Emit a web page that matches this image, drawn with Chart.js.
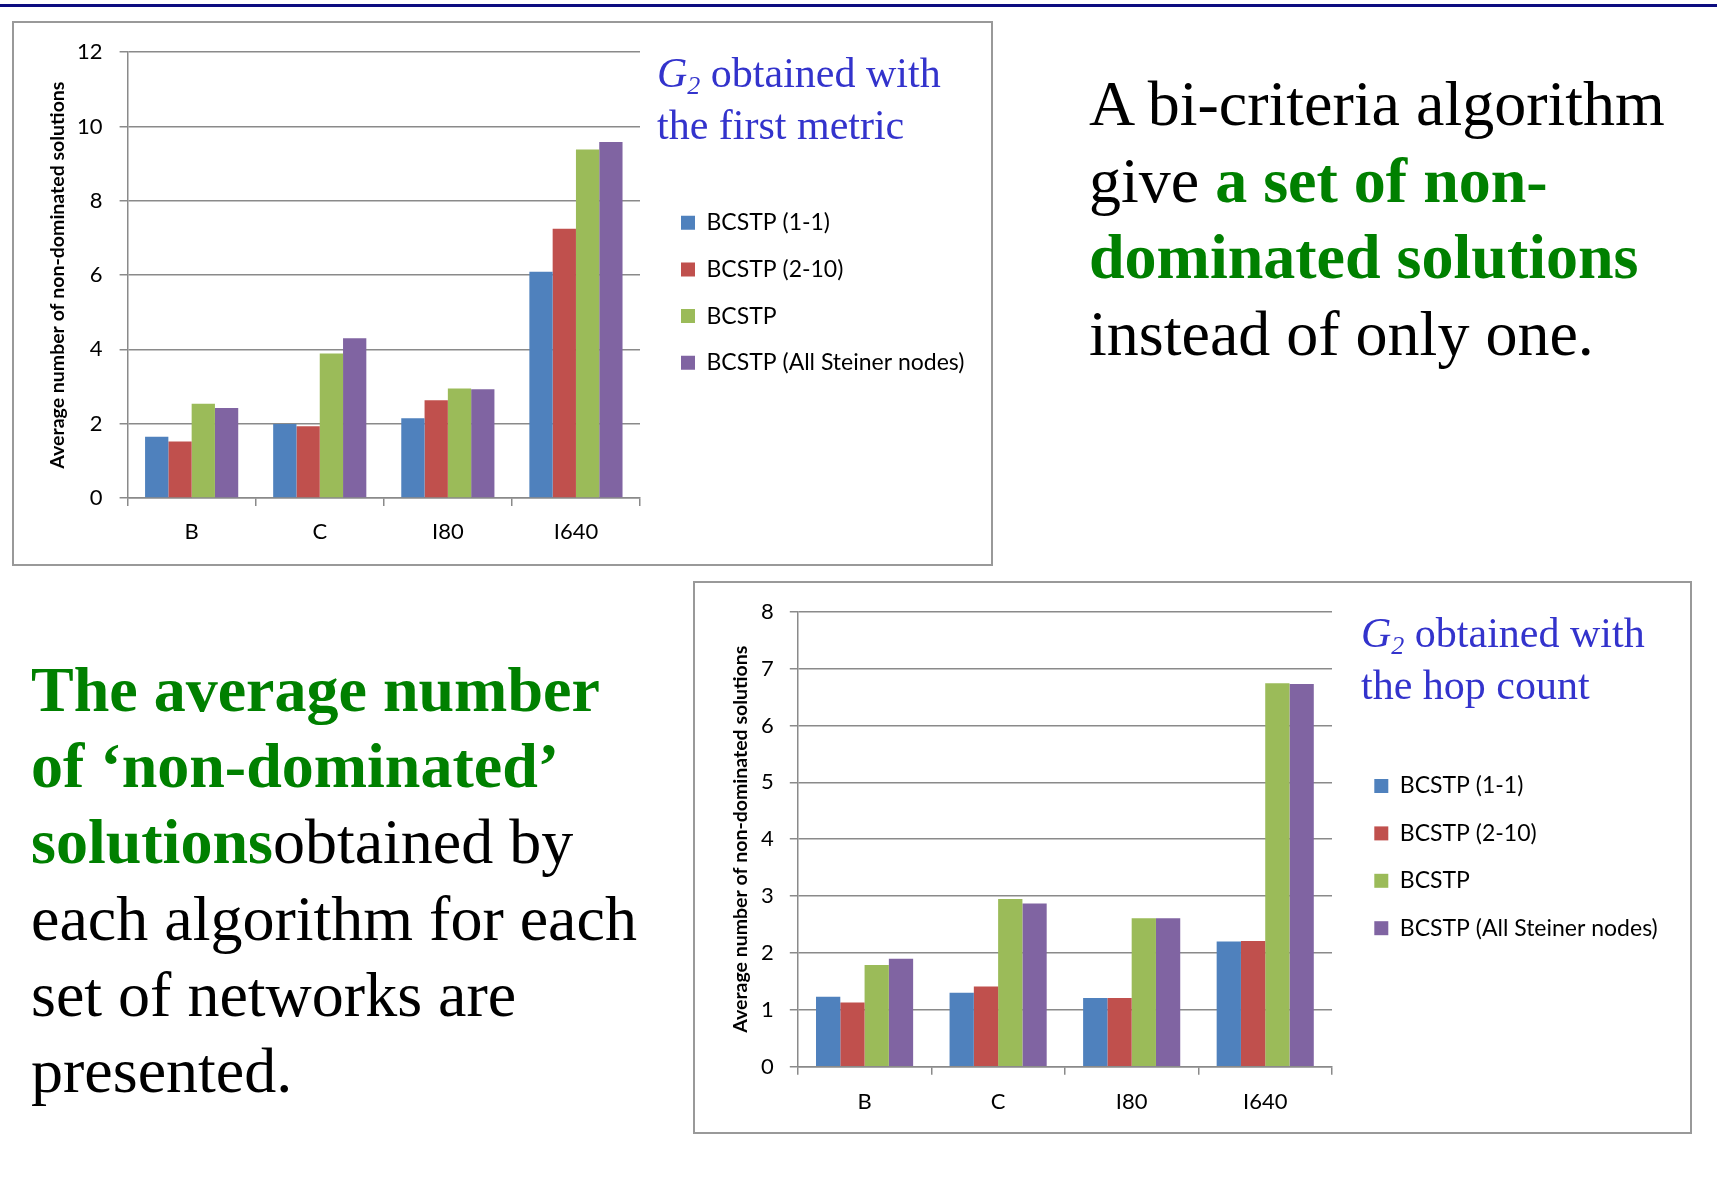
<!DOCTYPE html>
<html>
<head>
<meta charset="utf-8">
<script src="https://cdn.jsdelivr.net/npm/chart.js@4/dist/chart.umd.min.js"></script>
<style>
  html, body { margin: 0; padding: 0; background: #fff; }
  body { width: 1717px; height: 1186px; position: relative; overflow: hidden;
         font-family: 'Liberation Serif', 'Times New Roman', serif; }
  .topline { position: absolute; left: 0; top: 4px; width: 1717px; height: 3px; background: #0c0c80; }
  .frame { position: absolute; border: 2px solid #999; box-sizing: border-box; background: #fff; }
  canvas.plot { position: absolute; }
  .note { position: absolute; color: #3333cc; font-size: 42px; line-height: 51.5px; white-space: nowrap; }
  .note sub { font-size: 0.62em; vertical-align: -0.28em; line-height: 0; }
  .para { position: absolute; font-size: 64px; white-space: nowrap; color: #000; }
  .g { color: #008000; font-weight: bold; }
</style>
</head>
<body>
<div class="topline"></div>

<div class="frame" style="left:12px;top:21px;width:981px;height:545px;"></div>
<div class="frame" style="left:693px;top:581px;width:999px;height:553px;"></div>

<canvas id="metricChart" class="plot" width="979" height="543" style="left:13px;top:22px;"></canvas>
<canvas id="hopChart" class="plot" width="997" height="553" style="left:694px;top:581px;"></canvas>

<div class="note" style="left:657px;top:48px;"><i>G<sub>2</sub></i> obtained with<br>the first metric</div>
<div class="note" style="left:1361px;top:608px;"><i>G<sub>2</sub></i> obtained with<br>the hop count</div>

<div class="para" style="left:1089px;top:66px;line-height:76.7px;">
A bi-criteria algorithm<br>
give <span class="g">a set of non-</span><br>
<span class="g">dominated solutions</span><br>
instead of only one.
</div>

<div class="para" style="left:31px;top:652px;line-height:76.2px;">
<span class="g">The average number</span><br>
<span class="g">of ‘non-dominated’</span><br>
<span class="g">solutions</span>obtained by<br>
each algorithm for each<br>
set of networks are<br>
presented.
</div>

<script>
// Network sets on the x axis
const networks = ['B', 'C', 'I80', 'I640'];

// Algorithm variants (one bar series each)
const algorithms = ['BCSTP (1-1)', 'BCSTP (2-10)', 'BCSTP', 'BCSTP (All Steiner nodes)'];
const seriesColors = ['#4F81BD', '#C0504D', '#9BBB59', '#8064A2'];

// Average number of non-dominated solutions, G2 from the first metric
const metricBasic   = [1.65, 1.99, 2.15, 6.09];
const metricTwoTen  = [1.52, 1.93, 2.63, 7.25];
const metricBCSTP   = [2.54, 3.89, 2.95, 9.38];
const metricSteiner = [2.42, 4.30, 2.93, 9.58];

// Average number of non-dominated solutions, G2 from the hop count
const hopBasic   = [1.23, 1.30, 1.21, 2.20];
const hopTwoTen  = [1.13, 1.41, 1.21, 2.21];
const hopBCSTP   = [1.79, 2.95, 2.61, 6.74];
const hopSteiner = [1.90, 2.87, 2.61, 6.73];

// Y-axis tick settings
const metricTicks = { max: 12, step: 2 };
const hopTicks = { max: 8, step: 1 };

const axisTitle = 'Average number of non-dominated solutions';
const gridGrey = '#8a8a8a';
const tickFont = { family: 'Lato', size: 22 };

// Puts the legend block at a fixed spot inside the canvas
const legendPlacer = {
  id: 'legendPlacer',
  afterLayout(chart, args, opts) {
    const lg = chart.legend;
    if (!lg) return;
    lg.left = opts.x; lg.top = opts.y;
    lg.width = opts.w; lg.height = opts.h;
    lg.right = opts.x + opts.w; lg.bottom = opts.y + opts.h;
  }
};

function buildDatasets(values) {
  return algorithms.map((name, i) => ({
    label: name,
    data: values[i],
    backgroundColor: seriesColors[i],
    borderWidth: 0,
    categoryPercentage: 4 / 5.5,
    barPercentage: 1.0
  }));
}

function makeChart(id, values, ticks, geom) {
  return new Chart(document.getElementById(id), {
    type: 'bar',
    data: { labels: networks, datasets: buildDatasets(values) },
    plugins: [legendPlacer],
    options: {
      responsive: false,
      animation: false,
      events: [],
      layout: { padding: { left: 0, top: geom.top, right: geom.right, bottom: 0 } },
      plugins: {
        tooltip: { enabled: false },
        title: { display: false },
        legend: {
          display: true,
          position: 'chartArea',
          align: 'start',
          labels: {
            boxWidth: 14, boxHeight: 14,
            padding: geom.legendGap,
            color: '#000',
            font: { family: 'Lato', size: 23 }
          }
        },
        legendPlacer: geom.legend
      },
      scales: {
        x: {
          grid: { drawOnChartArea: false, drawTicks: true, tickLength: 8, color: gridGrey, lineWidth: 1.5 },
          border: { display: true, color: gridGrey, width: 1.5 },
          ticks: { color: '#000', font: tickFont, padding: geom.xPad },
          afterFit: (s) => { s.height = geom.xHeight; }
        },
        y: {
          min: 0,
          max: ticks.max,
          grid: { color: gridGrey, lineWidth: 1.5, tickLength: 8, drawTicks: true },
          border: { display: true, color: gridGrey, width: 1.5 },
          ticks: { stepSize: ticks.step, color: '#000', font: tickFont, padding: geom.yPad },
          title: {
            display: true,
            text: axisTitle,
            color: '#000',
            font: { family: 'Lato', size: 19.5, weight: 'bold' },
            padding: { top: geom.titlePad, bottom: 0 }
          },
          afterFit: (s) => { s.width = geom.yWidth; }
        }
      }
    }
  });
}

makeChart('metricChart',
  [metricBasic, metricTwoTen, metricBCSTP, metricSteiner],
  metricTicks,
  { top: 28.7, right: 352, yWidth: 114.6, xHeight: 67, xPad: 12.5, yPad: 17, titlePad: 33,
    legendGap: 23.7, legend: { x: 644.3, y: 165.5, w: 330, h: 260 } });

makeChart('hopChart',
  [hopBasic, hopTwoTen, hopBCSTP, hopSteiner],
  hopTicks,
  { top: 30.7, right: 359, yWidth: 103.8, xHeight: 67.3, xPad: 13.7, yPad: 16, titlePad: 35.5,
    legendGap: 24.4, legend: { x: 655.9, y: 169.1, w: 340, h: 260 } });
</script>
</body>
</html>
